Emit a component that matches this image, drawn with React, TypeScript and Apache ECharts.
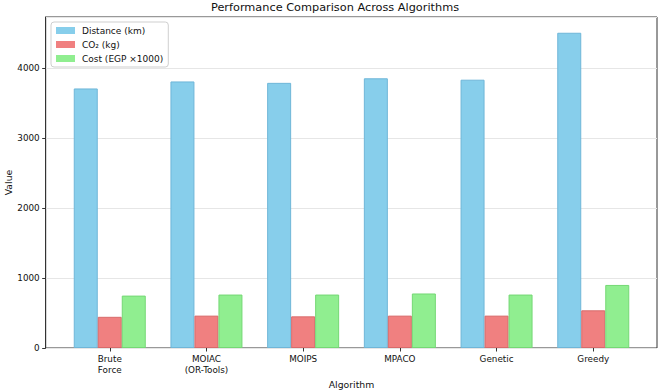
import React, { useEffect, useRef } from "react";
import * as echarts from "echarts";

const categories = ["Brute\nForce", "MOIAC\n(OR-Tools)", "MOIPS", "MPACO", "Genetic", "Greedy"];
const distanceKm = [3705, 3805, 3785, 3850, 3830, 4500];
const co2Kg = [445, 462, 452, 462, 462, 538];
const costK = [748, 763, 763, 778, 763, 900];
const seriesNames = ["Distance (km)", "CO₂ (kg)", "Cost (EGP ×1000)"];
const yTicks = [0, 1000, 2000, 3000, 4000];

const FONT = "DejaVu Sans";

export default function App() {
  const ref = useRef<HTMLDivElement>(null);
  useEffect(() => {
    const chart = echarts.init(ref.current!, null, { renderer: "svg" });
    const yMax = Math.max(...distanceKm) * 1.05;
    const fills = ["#87CEEB", "#F08080", "#90EE90"];
    const edges = ["#6fb6d8", "#d86a6a", "#74d874"];
    const values = [distanceKm, co2Kg, costK];
    chart.setOption({
      animation: false,
      textStyle: { fontFamily: FONT },
      grid: [
        { left: 45.7, right: 3, top: 17, bottom: 42, show: true, borderColor: "#333", borderWidth: 1, backgroundColor: "transparent", outerBoundsMode: "none", containLabel: false },
        { left: 61.4, right: 18.4, top: 17, bottom: 42, outerBoundsMode: "none", containLabel: false },
      ],
      xAxis: [
        { type: "value", gridIndex: 0, min: 0, max: 1, show: false },
        {
          type: "category",
          gridIndex: 1,
          data: categories,
          axisLine: { show: false },
          axisTick: { show: true, alignWithLabel: true, length: 3.5, lineStyle: { color: "#333" } },
          axisLabel: { color: "#111", fontSize: 8.8, fontFamily: FONT, lineHeight: 11, margin: 5, interval: 0 },
          name: "Algorithm",
          nameLocation: "middle",
          nameGap: 30,
          nameTextStyle: { color: "#111", fontSize: 9.3, fontFamily: FONT },
        },
      ],
      yAxis: [
        {
          type: "value",
          gridIndex: 0,
          min: 0,
          max: yMax,
          interval: 1000,
          axisLine: { show: true, lineStyle: { color: "#333" } },
          axisTick: { show: true, length: 3.5, lineStyle: { color: "#333" } },
          axisLabel: {
            color: "#111",
            fontSize: 8.8,
            fontFamily: FONT,
            margin: 6,
            showMaxLabel: false,
            formatter: (v: number) => (yTicks.includes(v) ? String(v) : ""),
          },
          splitLine: { show: true, lineStyle: { color: "#e6e6e6", width: 1 } },
          name: "Value",
          nameLocation: "middle",
          nameGap: 33,
          nameMoveOverlap: false,
          nameTextStyle: { color: "#111", fontSize: 9.3, fontFamily: FONT },
        },
        { type: "value", gridIndex: 1, min: 0, max: yMax, show: false },
      ],
      legend: {
        orient: "vertical",
        left: 51,
        top: 22,
        itemWidth: 19,
        itemHeight: 7,
        itemGap: 3,
        padding: [3, 5, 3, 5],
        borderColor: "#cfcfcf",
        borderWidth: 1,
        borderRadius: 3,
        backgroundColor: "rgba(255,255,255,0.85)",
        textStyle: { color: "#111", fontSize: 9, fontFamily: FONT, lineHeight: 11, padding: [0, 0, 0, 2] },
        itemStyle: { borderWidth: 0 },
        data: seriesNames.map((n, i) => ({ name: n, icon: "rect", itemStyle: { color: fills[i] } })),
      },
      graphic: [
        {
          type: "text",
          left: 351 - 140,
          top: 1.5,
          style: { text: "Performance Comparison Across Algorithms", font: `11.3px '${FONT}'`, fill: "#111", width: 280, align: "center" },
        },
      ],
      series: values.map((vals, i) => ({
        type: "bar",
        name: seriesNames[i],
        xAxisIndex: 1,
        yAxisIndex: 1,
        data: vals,
        barWidth: 24,
        barGap: "0%",
        itemStyle: { color: fills[i], borderColor: edges[i], borderWidth: 1 },
        emphasis: { disabled: true },
      })),
    });
    return () => chart.dispose();
  }, []);
  return <div ref={ref} style={{ position: "fixed", left: 0, top: 0, width: 660, height: 390, background: "#fff" }} />;
}
